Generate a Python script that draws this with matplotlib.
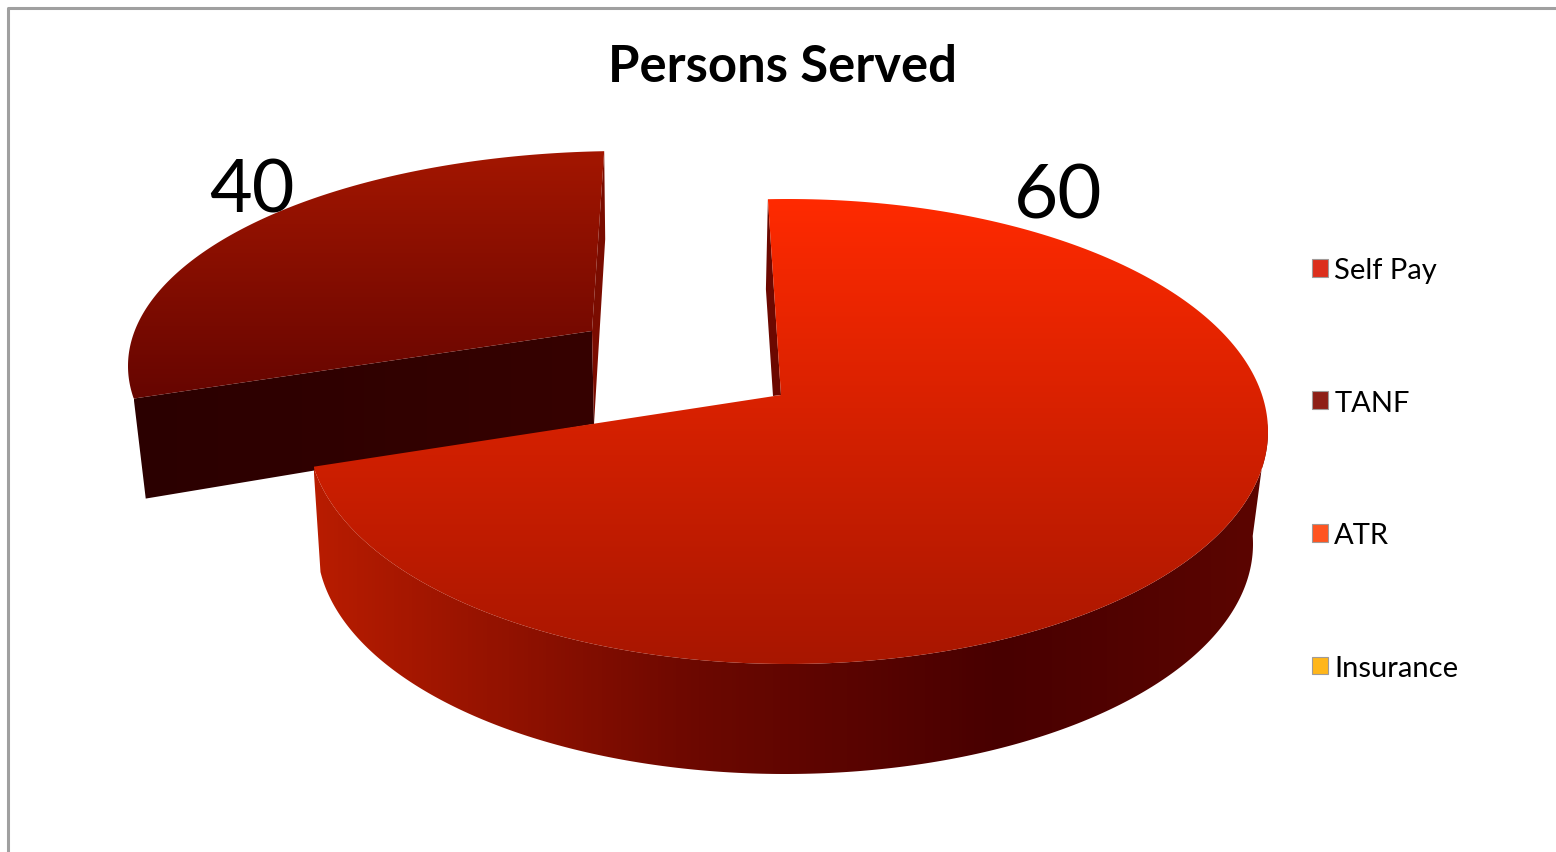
import numpy as np
import matplotlib
matplotlib.use('Agg')
import matplotlib.pyplot as plt
from matplotlib.colors import LinearSegmentedColormap
from matplotlib.patches import Patch, Polygon

categories = ['Self Pay', 'TANF', 'ATR', 'Insurance']
values = [60, 40, 0, 0]
legend_colors = ['#dc2f1c', '#8e1f16', '#ff5420', '#ffb61a']

START_ANGLE = 92.4  # degrees, going clockwise
VIEW_WARP = 0.6095  # the perspective view stretches the near slice


def slice_angles(vals):
    cum = np.cumsum([0] + list(vals)) / sum(vals)
    return START_ANGLE - 360 * cum ** VIEW_WARP


def arc(cx, cy, a, b, t0, t1, n=300):
    t = np.radians(np.linspace(t0, t1, n))
    return np.column_stack([cx + a * np.cos(t), cy - b * np.sin(t)])


def gradient_fill(ax, pts, stops, horizontal=False, zorder=1):
    # imshow clipped to the polygon, so the gradient follows the slice shape
    x0, x1 = pts[:, 0].min(), pts[:, 0].max()
    y0, y1 = pts[:, 1].min(), pts[:, 1].max()
    cmap = LinearSegmentedColormap.from_list('g', stops)
    ramp = np.linspace(0, 1, 256)
    ramp = ramp[None, :] if horizontal else ramp[:, None]
    im = ax.imshow(ramp, cmap=cmap, vmin=0, vmax=1, aspect='auto',
                   extent=(x0, x1, y1, y0), zorder=zorder, interpolation='bilinear')
    poly = Polygon(pts, closed=True, transform=ax.transData, fc='none', ec='none')
    ax.add_patch(poly)
    im.set_clip_path(poly)


fig = plt.figure(figsize=(15.56, 8.53), dpi=100)
ax = fig.add_axes([0, 0, 1, 1])
plt.rcParams['font.family'] = ['Lato', 'DejaVu Sans']

angles = slice_angles(values)

# TANF slice, pulled out to the upper left
top = arc(625, 367, 497, 215, angles[1], angles[2])
apex = np.array([592, 332])
depth = np.array([12, 100])
wall = np.array([apex, apex + [2, 93], top[0] + depth, top[0]])
gradient_fill(ax, wall, ['#2b0000', '#360200'], horizontal=True, zorder=1)
inner = np.array([top[-1], top[-1] + [1, 88], apex + [2, 93], apex])
ax.add_patch(Polygon(inner, fc='#7a0c00', ec='none', zorder=1))
gradient_fill(ax, np.vstack([apex, top]),
              [(0, '#a31600'), (1, '#660500')], zorder=2)

# Self Pay slice
top = arc(788, 432.5, 480, 232.5, angles[0], angles[1])
apex = np.array([781, 396])
outer_top = arc(788, 432.5, 480, 232.5, angles[1], 2)
outer_low = arc(785, 545, 468, 230, 2, -173)
wall = np.vstack([outer_top, outer_low])
gradient_fill(ax, wall,
              [(0, '#b81c00'), (0.4, '#6c0800'), (0.72, '#480000'), (1, '#5c0500')],
              horizontal=True, zorder=3)
inner = np.array([top[0], top[0] + [-2, 90], apex + [-8, 1], apex])
ax.add_patch(Polygon(inner, fc='#6c0800', ec='none', zorder=3))
gradient_fill(ax, np.vstack([apex, top]),
              [(0, '#ff2a00'), (1, '#a81600')], zorder=4)

# chart border, only top and left are in the frame
ax.plot([8.5, 8.5, 1556], [853, 8.5, 8.5], color='#a0a0a0', lw=2.2, zorder=5)

ax.text(783, 67, 'Persons Served', ha='center', va='center',
        fontsize=36.5, fontweight='bold', color='black')
ax.text(1058, 197, str(values[0]), ha='center', va='center', fontsize=55, color='black', zorder=6)
ax.text(252, 192, str(values[1]), ha='center', va='center', fontsize=53, color='black', zorder=6)

handles = [Patch(fc=c, ec='#a09a98', lw=0.8) for c in legend_colors]
leg = ax.legend(handles, categories, loc='upper left',
                bbox_to_anchor=(1312 / 1556, 1 - 258 / 853), frameon=False, fontsize=21,
                labelspacing=3.655, handlelength=0.56, handleheight=0.56, handletextpad=0.2,
                borderpad=0, borderaxespad=0)

ax.set_xlim(0, 1556)
ax.set_ylim(853, 0)
ax.axis('off')
fig.savefig('out.png', dpi=100)
